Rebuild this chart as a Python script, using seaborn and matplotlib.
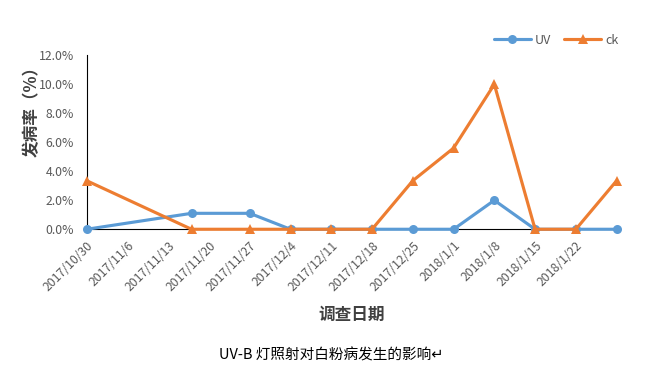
import pandas as pd
import seaborn as sns
import matplotlib.pyplot as plt

# survey dates and disease incidence (%)
dates = ['2017-10-30', '2017-11-17', '2017-11-27', '2017-12-04', '2017-12-11', '2017-12-18',
         '2017-12-25', '2018-01-01', '2018-01-08', '2018-01-15', '2018-01-22', '2018-01-29']
uv = [0, 1.1, 1.1, 0, 0, 0, 0, 0, 2.0, 0, 0, 0]
ck = [3.35, 0, 0, 0, 0, 0, 3.35, 5.6, 10.0, 0, 0, 3.35]

df = pd.DataFrame({
    'date': pd.to_datetime(dates * 2),
    'rate': [v / 100 for v in uv + ck],
    'group': ['UV'] * len(uv) + ['ck'] * len(ck),
})

sns.set_style('white')
plt.rcParams['font.family'] = ['Noto Sans CJK SC', 'DejaVu Sans']

fig = plt.figure(figsize=(6.45, 3.74), dpi=100)
ax = fig.add_axes([0.1344, 0.387, 0.8216, 0.465])

sns.lineplot(data=df, x='date', y='rate', hue='group', style='group',
             palette={'UV': '#5B9BD5', 'ck': '#ED7D31'},
             markers={'UV': 'o', 'ck': '^'}, dashes=False,
             linewidth=2.25, markersize=6.5, markeredgewidth=0, ax=ax)
# keep markers on the axis edges visible
for line in ax.lines:
    line.set_clip_on(False)
    line.set_zorder(3)

tick_dates = pd.date_range('2017-10-30', '2018-01-22', freq='7D')
ax.set_xticks(tick_dates)
ax.set_xticklabels([f'{d.year}/{d.month}/{d.day}' for d in tick_dates],
                   rotation=45, ha='right', rotation_mode='anchor')
ax.set_xlim(pd.Timestamp('2017-10-30'), pd.Timestamp('2018-01-29'))
ax.set_ylim(0, 0.12)
ax.set_yticks([i / 100 for i in range(0, 13, 2)])
ax.set_yticklabels([f'{i:.1f}%' for i in range(0, 13, 2)])

ax.tick_params(axis='both', colors='black', labelcolor='#595959', labelsize=8.8,
               length=4, width=0.8, direction='out')
ax.tick_params(axis='x', pad=3)
ax.tick_params(axis='y', pad=5)
for s in ['top', 'right']:
    ax.spines[s].set_visible(False)
for s in ['left', 'bottom']:
    ax.spines[s].set_color('black')
    ax.spines[s].set_linewidth(0.8)

ax.set_xlabel('')
ax.set_ylabel('发病率（%）', fontsize=12, fontweight='bold', color='#404040')
ax.yaxis.set_label_coords(-0.086, 0.70)
fig.text(352 / 645, 1 - 315 / 374, '调查日期', fontsize=12, fontweight='bold',
         color='#404040', ha='center', va='center')
fig.text(331 / 645, 1 - 355 / 374, 'UV-B 灯照射对白粉病发生的影响↵', fontsize=10.5,
         color='black', ha='center', va='center')

ax.legend(loc='center', bbox_to_anchor=(556 / 645, 1 - 40 / 374),
          bbox_transform=fig.transFigure, ncol=2, frameon=False,
          fontsize=9, handlelength=3, columnspacing=1.0, handletextpad=0.3,
          labelcolor='#595959')

fig.savefig('out.png', dpi=100)
